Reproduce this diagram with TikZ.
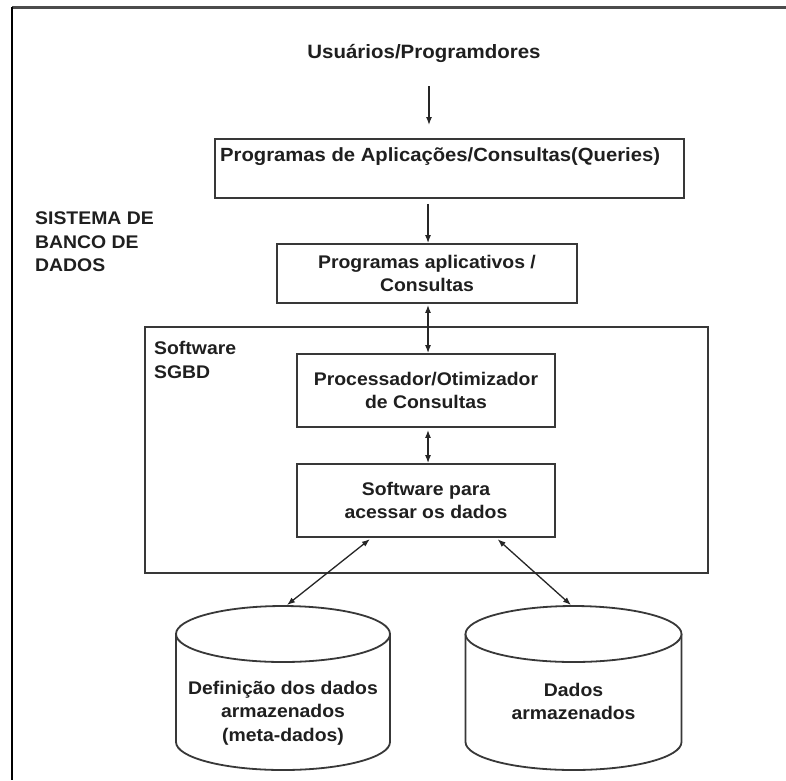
\documentclass[tikz,border=0pt]{standalone}
\usepackage{fontspec}
\newfontfamily\df[FakeStretch=1.06]{Liberation Sans}
\usetikzlibrary{arrows.meta,calc}
\begin{document}
\begin{tikzpicture}[x=1pt,y=1pt,
  txt/.style={inner sep=0pt, text=black!88, font=\df\bfseries\fontsize{18.3}{23.5}\selectfont},
  box/.style={txt, draw=black!78, line width=1.8pt, fill=white, align=center},
  arr/.style={line width=1.3pt, draw=black!85, -{Latex[length=8pt,width=6pt]}},
  darr/.style={line width=1.3pt, draw=black!85, {Latex[length=8pt,width=6pt]}-{Latex[length=8pt,width=6pt]}},
  cyl/.style={draw=black!78, line width=1.8pt, fill=white}]
\useasboundingbox (0,0) rectangle (786,-780);
\fill[white] (0,0) rectangle (786,-780);
% frame
\draw[line width=3pt, black!70] (12,-7) -- (786,-7);
\draw[line width=2pt, black] (12,-7) -- (12,-780);

% top text
\node[txt, anchor=base, font=\df\bfseries\fontsize{19.3}{23}\selectfont] (usr) at (424,-58) {Usuários/Programdores};
\coordinate (a1s) at (429,-86);
\coordinate (a1e) at (429,-125);
\draw[arr] (a1s) -- (a1e);

% box 1
\node[box, minimum width=469pt, minimum height=59pt] (box1) at (449.5,-168.5) {};
\node[txt, anchor=base west, font=\df\bfseries\fontsize{19.1}{23}\selectfont] (t1) at (220,-161) {Programas de Aplicações/Consultas(Queries)};

% system label
\node[txt, anchor=west, align=left] (sis) at (35,-242) {SISTEMA DE\\BANCO DE\\DADOS};

% box 2
\node[box, minimum width=300pt, minimum height=59pt] (box2) at (427,-273.5) {Programas aplicativos /\\Consultas};
\coordinate (ax) at (428,0);
\draw[arr, shorten <=5pt] (box1.south -| ax) -- (box2.north -| ax);

% SGBD box
\node[box, minimum width=563pt, minimum height=246pt, fill=none] (sgbd) at (426.5,-450) {};
\node[txt, anchor=west, align=left] (sgbdt) at (154,-360) {Software\\SGBD};

% box 3 and 4
\node[box, minimum width=258pt, minimum height=73pt] (box3) at (426,-390.5) {Processador/Otimizador\\de Consultas};
\node[box, minimum width=258pt, minimum height=73pt] (box4) at (426,-500.5) {Software para\\acessar os dados};

\draw[darr, shorten <=1pt] (box2.south -| ax) -- (box3.north -| ax);
\draw[darr, shorten <=2pt] (box3.south -| ax) -- (box4.north -| ax);

% cylinders
\draw[cyl] (176,-634) -- (176,-742) arc[start angle=180, end angle=360, x radius=107pt, y radius=28pt] -- (390,-634);
\draw[cyl] (283,-634) ellipse [x radius=107pt, y radius=28pt];
\draw[cyl] (465.5,-634) -- (465.5,-742) arc[start angle=180, end angle=360, x radius=108pt, y radius=28pt] -- (681.5,-634);
\draw[cyl] (573.5,-634) ellipse [x radius=108pt, y radius=28pt];
\node[txt, align=center] (cyl1) at (283,-713) {Definição dos dados\\armazenados\\(meta-dados)};
\node[txt, align=center] (cyl2) at (573.5,-701.5) {Dados\\armazenados};
\coordinate (c1top) at (287,-605);
\coordinate (c2top) at (571,-605);

\draw[darr, shorten <=2pt] ($(box4.south west)!0.29!(box4.south east)$) -- (c1top);
\draw[darr, shorten <=2pt] ($(box4.south west)!0.77!(box4.south east)$) -- (c2top);
\end{tikzpicture}
\end{document}
